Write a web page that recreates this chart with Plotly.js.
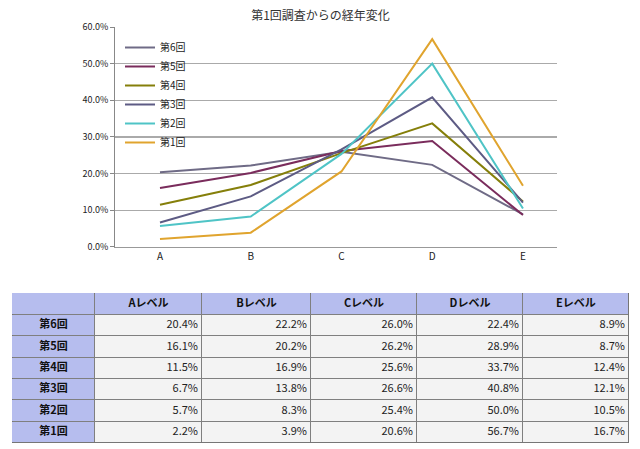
<!DOCTYPE html>
<html>
<head>
<meta charset="utf-8">
<script src="https://cdn.plot.ly/plotly-3.0.1.min.js"></script>
<style>html,body{margin:0;padding:0;background:#fff;}#chart{width:640px;height:449px;}</style>
</head>
<body>
<div id="chart"></div>
<script>
const categories = ["A", "B", "C", "D", "E"];
const seriesNames = ["第6回", "第5回", "第4回", "第3回", "第2回", "第1回"];
const round6 = [20.4, 22.2, 26.0, 22.4, 8.9];
const round5 = [16.1, 20.2, 26.2, 28.9, 8.7];
const round4 = [11.5, 16.9, 25.6, 33.7, 12.4];
const round3 = [6.7, 13.8, 26.6, 40.8, 12.1];
const round2 = [5.7, 8.3, 25.4, 50.0, 10.5];
const round1 = [2.2, 3.9, 20.6, 56.7, 16.7];
const headerSuffix = "レベル";
const yTicks = [0, 10, 20, 30, 40, 50, 60];

const allSeries = [round6, round5, round4, round3, round2, round1];
const colors = ["#6f6b86", "#7a2c5c", "#857f0a", "#5d5b84", "#4fc4c6", "#e0a42e"];
const FONT = "'Noto Sans CJK JP', 'Noto Sans', sans-serif";

const traces = allSeries.map((vals, i) => ({
  type: "scatter", mode: "lines",
  x: categories, y: vals, name: seriesNames[i],
  line: {color: colors[i], width: 2},
  xaxis: "x", yaxis: "y",
  hoverinfo: "skip"
}));

// ---- table drawn on its own axes (x2 / y2) ----
const colWidths = [83, 107, 109, 106, 106, 106];
const headerH = 22, rowH = 128 / 6;
const colEdges = [0];
colWidths.forEach(w => colEdges.push(colEdges[colEdges.length - 1] + w));
const rowEdges = [0, headerH];
seriesNames.forEach(() => rowEdges.push(rowEdges[rowEdges.length - 1] + rowH));
const tableW = colEdges[colEdges.length - 1];
const tableH = rowEdges[rowEdges.length - 1];
const lav = "#b6bdee";

// cell fills: 1 = lavender (header / row labels), 0 = light grey
const z = [colWidths.map(() => 1)].concat(seriesNames.map(() => colWidths.map((w, ci) => ci === 0 ? 1 : 0)));
traces.push({
  type: "heatmap", xaxis: "x2", yaxis: "y2",
  x: colEdges, y: rowEdges, z: z,
  colorscale: [[0, "#f3f3f3"], [1, lav]], zmin: 0, zmax: 1,
  showscale: false, xgap: 1, ygap: 1, hoverinfo: "skip"
});

const colCenter = i => (colEdges[i] + colEdges[i + 1]) / 2;
const rowCenter = r => (rowEdges[r] + rowEdges[r + 1]) / 2;

// header text
traces.push({
  type: "scatter", mode: "text", xaxis: "x2", yaxis: "y2",
  x: categories.map((c, i) => colCenter(i + 1)),
  y: categories.map(() => rowCenter(0)),
  text: categories.map(c => "<b>" + c + headerSuffix + "</b>"),
  textposition: "middle center", cliponaxis: false,
  textfont: {family: FONT, size: 11, color: "#111"},
  hoverinfo: "skip", showlegend: false
});
// row labels
traces.push({
  type: "scatter", mode: "text", xaxis: "x2", yaxis: "y2",
  x: seriesNames.map(() => colCenter(0)),
  y: seriesNames.map((n, r) => rowCenter(r + 1)),
  text: seriesNames.map(n => "<b>" + n + "</b>"),
  textposition: "middle center", cliponaxis: false,
  textfont: {family: FONT, size: 11, color: "#111"},
  hoverinfo: "skip", showlegend: false
});
// values
categories.forEach((c, ci) => {
  traces.push({
    type: "scatter", mode: "text", xaxis: "x2", yaxis: "y2",
    x: allSeries.map(() => colEdges[ci + 2] - 4),
    y: allSeries.map((s, r) => rowCenter(r + 1)),
    text: allSeries.map(s => s[ci].toFixed(1) + "%"),
    textposition: "middle left", cliponaxis: false,
    textfont: {family: FONT, size: 11, color: "#222"},
    hoverinfo: "skip", showlegend: false
  });
});

const layout = {
  width: 640, height: 449,
  margin: {l: 12, r: 11, t: 27, b: 6},
  paper_bgcolor: "#fff", plot_bgcolor: "rgba(0,0,0,0)",
  font: {family: FONT, size: 10, color: "#222"},
  title: {text: "第1回調査からの経年変化", x: 0.5, xref: "paper", xanchor: "center",
          y: 1 - 16 / 449, yref: "container", yanchor: "middle",
          font: {family: FONT, size: 12, color: "#333"}},
  xaxis: {domain: [0.1669, 0.8833], type: "category", range: [-0.496, 4.375], showgrid: false,
          showline: true, linecolor: "#999", linewidth: 1, ticks: "",
          tickfont: {family: FONT, size: 10, color: "#222"}, fixedrange: true},
  yaxis: {domain: [0.4712, 1.0], range: [0, 60], tickvals: yTicks,
          ticktext: yTicks.map(v => v.toFixed(1) + "%"),
          showgrid: true, gridcolor: "#aaaaaa", gridwidth: 1.5,
          showline: true, linecolor: "#888", linewidth: 1, zeroline: false,
          ticks: "outside", ticklen: 4, tickcolor: "#888",
          tickfont: {family: FONT, size: 9, color: "#222"}, fixedrange: true},
  xaxis2: {domain: [0, 1], range: [0, tableW], visible: false, fixedrange: true, anchor: "y2"},
  yaxis2: {domain: [0, 0.3606], range: [tableH, 0], visible: false, fixedrange: true, anchor: "x2"},
  shapes: [{type: "rect", xref: "x2", yref: "y2", x0: 0, x1: tableW, y0: 0, y1: tableH,
            fillcolor: "#7f7f7f", line: {color: "#6f6f6f", width: 1}, layer: "below"}],
  showlegend: true,
  legend: {x: (120 - 12) / 617, xanchor: "left", y: 1 - (33 - 27) / 416, yanchor: "top",
           bgcolor: "rgba(255,255,255,0)", font: {family: FONT, size: 10, color: "#222"},
           itemwidth: 30, tracegroupgap: 0}
};

Plotly.newPlot("chart", traces, layout, {displayModeBar: false, staticPlot: true});
</script>
</body>
</html>
